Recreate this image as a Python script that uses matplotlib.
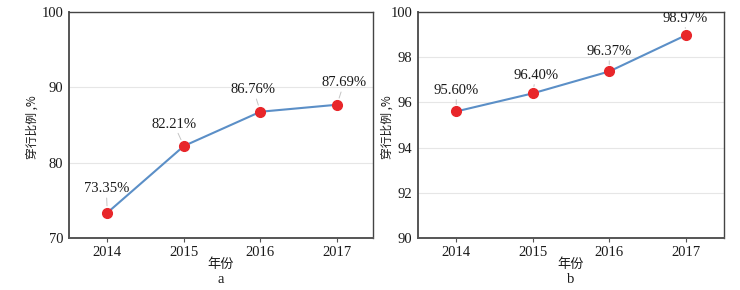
import matplotlib
matplotlib.use("Agg")
import matplotlib.pyplot as plt

years = [2014, 2015, 2016, 2017]
values_a = [73.35, 82.21, 86.76, 87.69]
labels_a = ["73.35%", "82.21%", "86.76%", "87.69%"]
values_b = [95.60, 96.40, 97.37, 98.97]
labels_b = ["95.60%", "96.40%", "96.37%", "98.97%"]
yticks_a = [70, 80, 90, 100]
yticks_b = [90, 92, 94, 96, 98, 100]

FAM = ["Liberation Serif", "Noto Sans CJK SC"]
plt.rcParams['font.family'] = FAM

fig = plt.figure(figsize=(7.4, 2.9), dpi=100)
axA = fig.add_axes([69/740, 1-238/290, 304/740, 226/290])
axB = fig.add_axes([418/740, 1-238/290, 306/740, 226/290])

offs_a = [(-1, 24), (-10, 22), (-7, 22), (7, 22)]
offs_b = [(0, 21), (3, 18), (0, 20), (-1, 17)]

def style(ax, vals, labs, offs, yt, ylim, xlim, sub, ylx):
    ax.plot(years, vals, color="#5b8fc7", lw=1.5, zorder=3)
    ax.plot(years, vals, 'o', color="#e8262a", ms=7, mec="#e8262a", zorder=4)
    for x, v, t, o in zip(years, vals, labs, offs):
        ax.annotate(t, (x, v), xytext=o, textcoords="offset pixels",
                    ha="center", va="center", fontsize=10.5, color="#1a1a1a",
                    arrowprops=dict(arrowstyle='-', color="#c4c4c4", lw=0.7,
                                    shrinkA=0, shrinkB=5))
    ax.set_ylim(*ylim)
    ax.set_xlim(*xlim)
    ax.set_yticks(yt)
    ax.set_xticks(years)
    ax.set_xticklabels([str(y) for y in years])
    ax.grid(axis='y', color="#e6e6e6", lw=0.8)
    ax.set_axisbelow(True)
    for s in ax.spines.values():
        s.set_color("#444444")
        s.set_linewidth(1.0)
    ax.spines['left'].set_linewidth(1.4)
    ax.spines['bottom'].set_linewidth(1.4)
    ax.spines['left'].set_color("#555555")
    ax.spines['bottom'].set_color("#555555")
    ax.tick_params(axis='y', length=0, labelsize=10.5, pad=4, labelcolor="#1a1a1a")
    ax.tick_params(axis='x', length=3, direction='out', labelsize=10.5, pad=3,
                   color="#555555", labelcolor="#1a1a1a")
    ax.set_ylabel("穿行比例 ,%", fontsize=8.5, family=["Noto Sans CJK SC"],
                  color="#1a1a1a")
    ax.yaxis.set_label_coords(ylx, 0.49)
    ax.set_xlabel("年份", fontsize=9.5, family=["Noto Sans CJK SC"], labelpad=-1, color="#1a1a1a")
    ax.text(0.5, -0.185, sub, transform=ax.transAxes, ha="center", va="center",
            fontsize=10.5, color="#1a1a1a")

style(axA, values_a, labels_a, offs_a, yticks_a, (70, 100), (2013.5, 2017.47), "a", -0.10)
style(axB, values_b, labels_b, offs_b, yticks_b, (90, 100), (2013.5, 2017.5), "b", -0.078)

fig.savefig("out.png", dpi=100)
